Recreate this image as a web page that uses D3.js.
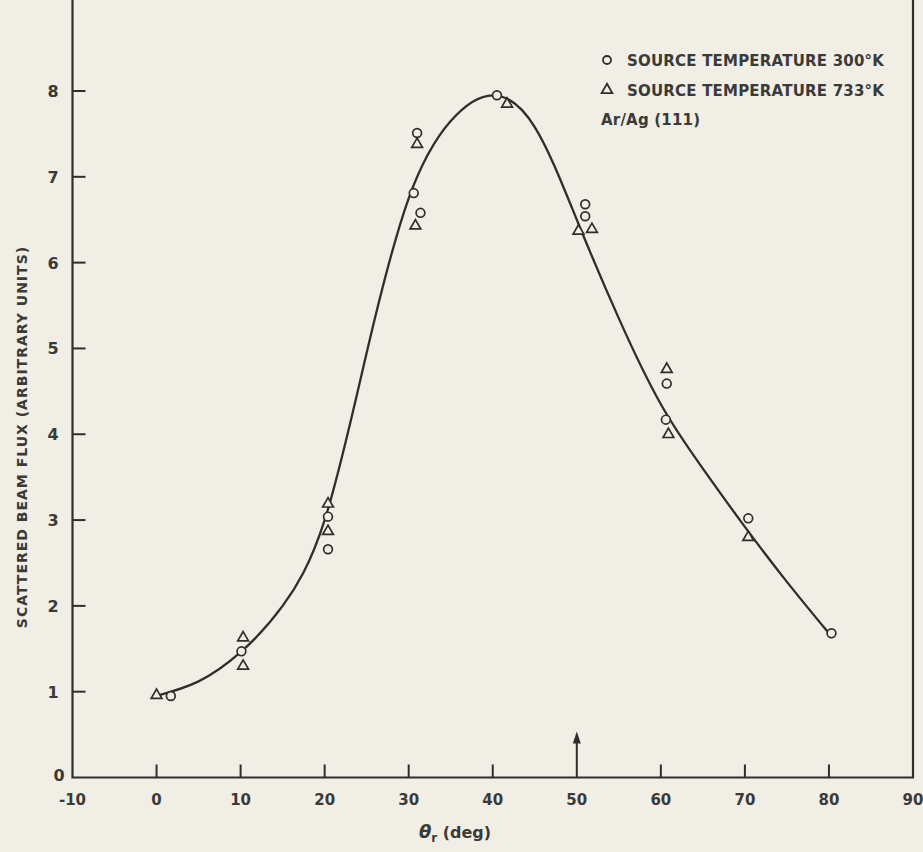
<!DOCTYPE html>
<html>
<head>
<meta charset="utf-8">
<script src="https://cdn.jsdelivr.net/npm/d3@7"></script>
<style>
  html, body { margin: 0; padding: 0; background: #f1eee5; }
  svg { display: block; }
  text { font-family: "DejaVu Sans", sans-serif; font-weight: bold; fill: #3a3a38; }
</style>
</head>
<body>
<svg width="923" height="852"></svg>
<script>
// measured points, source at 300 K (circles): [theta_r deg, flux]
var circles300 = [
    [1.7, 0.95], [10.1, 1.47], [20.4, 3.04], [20.4, 2.66],
    [31.0, 7.51], [30.6, 6.81], [31.4, 6.58], [40.5, 7.95],
    [51.0, 6.68], [51.0, 6.54], [60.7, 4.59], [60.6, 4.17],
    [70.4, 3.02], [80.3, 1.68]
];
// measured points, source at 733 K (triangles)
var triangles733 = [
    [0.0, 0.97], [10.3, 1.64], [10.3, 1.31], [20.4, 3.20], [20.4, 2.88],
    [31.0, 7.39], [30.8, 6.44], [41.7, 7.86], [50.2, 6.38], [51.8, 6.40],
    [60.7, 4.77], [60.9, 4.01], [70.4, 2.81]
];
// hand drawn fit curve, read every 5 deg
var fitCurve = [
    [0, 0.95], [5, 1.12], [10, 1.46], [15, 2.0], [20, 3.0], [25, 4.95],
    [30, 6.75], [35, 7.65], [40, 7.95], [45, 7.58], [50, 6.5], [55, 5.35],
    [60, 4.35], [65, 3.6], [70, 2.92], [75, 2.28], [80, 1.68]
];
var xTicks = [-10, 0, 10, 20, 30, 40, 50, 60, 70, 80, 90];
var yTicks = [0, 1, 2, 3, 4, 5, 6, 7, 8];
var legendLines = ["SOURCE TEMPERATURE 300\u00b0K", "SOURCE TEMPERATURE 733\u00b0K", "Ar/Ag (111)"];
var arrowAt = 50;

var svg = d3.select("svg"),
    ink = "#2e2e2c";

var x = d3.scaleLinear().domain([-10, 90]).range([72.5, 913]);
var y = d3.scaleLinear().domain([0, 8]).range([777.5, 91]);

// frame: left, bottom, right (top runs off the page)
svg.append("path")
    .attr("d", "M" + x(-10) + ",0 V" + y(0) + " H" + x(90) + " V0")
    .attr("fill", "none")
    .attr("stroke", ink)
    .attr("stroke-width", 2.2);

// x ticks pointing up into the plot
svg.append("g").selectAll("line")
    .data(xTicks.filter(function (d) { return d > -10 && d < 90 && d !== arrowAt; }))
    .enter().append("line")
    .attr("x1", function (d) { return x(d); })
    .attr("x2", function (d) { return x(d); })
    .attr("y1", y(0))
    .attr("y2", y(0) - 13)
    .attr("stroke", ink)
    .attr("stroke-width", 2);

svg.append("g").selectAll("text")
    .data(xTicks)
    .enter().append("text")
    .attr("x", function (d) { return x(d); })
    .attr("y", 805)
    .attr("text-anchor", "middle")
    .style("font-size", "15px")
    .text(function (d) { return d; });

// y ticks pointing right
svg.append("g").selectAll("line")
    .data(yTicks.filter(function (d) { return d > 0; }))
    .enter().append("line")
    .attr("x1", x(-10))
    .attr("x2", x(-10) + 13)
    .attr("y1", function (d) { return y(d); })
    .attr("y2", function (d) { return y(d); })
    .attr("stroke", ink)
    .attr("stroke-width", 2);

svg.append("g").selectAll("text")
    .data(yTicks)
    .enter().append("text")
    .attr("x", function (d) { return d === 0 ? 59 : 53; })
    .attr("y", function (d) { return y(d) + (d === 0 ? 3 : 6); })
    .attr("text-anchor", "middle")
    .style("font-size", "16px")
    .text(function (d) { return d; });

// arrow at 50 deg
svg.append("line")
    .attr("x1", x(arrowAt)).attr("x2", x(arrowAt))
    .attr("y1", y(0)).attr("y2", y(0) - 38)
    .attr("stroke", ink).attr("stroke-width", 2);
svg.append("path")
    .attr("d", "M" + x(arrowAt) + "," + (y(0) - 46) + " l-4,12 h8 z")
    .attr("fill", ink);

// fit curve
var line = d3.line()
    .x(function (d) { return x(d[0]); })
    .y(function (d) { return y(d[1]); })
    .curve(d3.curveNatural);

svg.append("path")
    .datum(fitCurve)
    .attr("d", line)
    .attr("fill", "none")
    .attr("stroke", ink)
    .attr("stroke-width", 2.3);

// markers
var tri = d3.symbol().type(d3.symbolTriangle).size(50);

svg.append("g").selectAll("circle")
    .data(circles300)
    .enter().append("circle")
    .attr("cx", function (d) { return x(d[0]); })
    .attr("cy", function (d) { return y(d[1]); })
    .attr("r", 4.4)
    .attr("fill", "#f1eee5")
    .attr("stroke", ink)
    .attr("stroke-width", 1.7);

svg.append("g").selectAll("path")
    .data(triangles733)
    .enter().append("path")
    .attr("d", tri)
    .attr("transform", function (d) { return "translate(" + x(d[0]) + "," + (y(d[1]) + 1) + ")"; })
    .attr("fill", "#f1eee5")
    .attr("stroke", ink)
    .attr("stroke-width", 1.7);

// legend
var legend = svg.append("g");
legend.selectAll("text")
    .data(legendLines)
    .enter().append("text")
    .attr("x", function (d, i) { return i < 2 ? 627 : 601; })
    .attr("y", function (d, i) { return 66 + i * 29.5; })
    .style("font-size", "15px")
    .style("letter-spacing", "0.2px")
    .text(function (d) { return d; });

legend.append("circle")
    .attr("cx", 607).attr("cy", 60).attr("r", 4)
    .attr("fill", "none").attr("stroke", ink).attr("stroke-width", 1.8);
legend.append("path")
    .attr("d", tri)
    .attr("transform", "translate(607,90)")
    .attr("fill", "none").attr("stroke", ink).attr("stroke-width", 1.8);

// axis titles
svg.append("text")
    .attr("transform", "translate(27,437) rotate(-90)")
    .attr("text-anchor", "middle")
    .style("font-size", "14px")
    .style("letter-spacing", "1px")
    .text("SCATTERED BEAM FLUX (ARBITRARY UNITS)");

var xt = svg.append("text")
    .attr("x", 455)
    .attr("y", 838)
    .attr("text-anchor", "middle")
    .style("font-size", "16px");
xt.append("tspan").style("font-style", "italic").style("font-size", "18px").text("\u03b8");
xt.append("tspan").attr("dy", 4).style("font-size", "12px").text("r");
xt.append("tspan").attr("dy", -4).text(" (deg)");
</script>
</body>
</html>
